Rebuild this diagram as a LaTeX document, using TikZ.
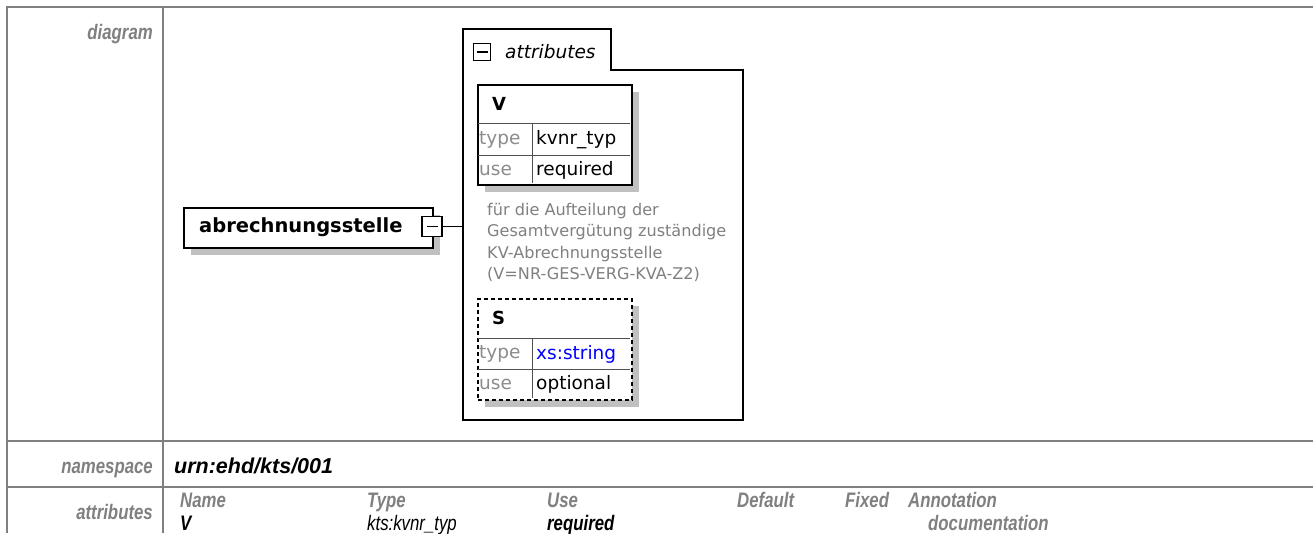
\documentclass[tikz,border=0pt]{standalone}
\usepackage{fontspec}
\setmainfont{Liberation Sans}
\newfontfamily\djv{DejaVu Sans}
\newfontfamily\nar[FakeStretch=0.8]{Liberation Sans}
\definecolor{lbl}{HTML}{808080}
\definecolor{shd}{HTML}{C0C0C0}
\definecolor{cellgray}{HTML}{8C8C8C}
\definecolor{xsblue}{HTML}{0000FF}
\definecolor{rule}{HTML}{505050}
\tikzset{
  gridline/.style={draw=lbl, line width=2pt},
  rowlabel/.style={anchor=base east, inner sep=0pt, text=lbl, font=\nar\fontsize{21}{25}\selectfont\bfseries\itshape},
  valtext/.style={anchor=base west, inner sep=0pt, font=\fontsize{21.5}{25}\selectfont\bfseries\itshape},
  hdrtext/.style={anchor=base west, inner sep=0pt, text=lbl, font=\nar\fontsize{21}{25}\selectfont\bfseries\itshape},
  rowtext/.style={anchor=base west, inner sep=0pt, font=\nar\fontsize{21}{25}\selectfont\bfseries\itshape},
  elembox/.style={draw=black, line width=2pt, fill=white, inner sep=0pt, anchor=north west},
  btnbox/.style={draw=black, line width=1.5pt, fill=white, inner sep=0pt, minimum size=20pt},
  shadowbox/.style={fill=shd},
  attrbox/.style={draw=black, line width=2pt, inner sep=0pt, anchor=north west, minimum width=154pt, minimum height=100pt},
  optbox/.style={attrbox, dash pattern=on 4pt off 3pt},
  innerline/.style={draw=rule, line width=1pt},
  celllabel/.style={anchor=west, inner sep=0pt, text=cellgray, font=\djv\fontsize{18.5}{22}\selectfont},
  cellvalue/.style={anchor=west, inner sep=0pt, font=\djv\fontsize{18.5}{22}\selectfont},
  attrname/.style={anchor=west, inner sep=0pt, font=\djv\fontsize{18}{22}\selectfont\bfseries},
  conn/.style={draw=black, line width=1.5pt}
}
\begin{document}
\begin{tikzpicture}[x=1pt,y=-1pt]
\useasboundingbox (0,0) rectangle (1313,533);
\fill[white] (0,0) rectangle (1313,533);
% table grid
\draw[gridline] (1313,7) -- (7,7) -- (7,533);
\draw[gridline] (163,7) -- (163,533);
\draw[gridline] (7,441) -- (1313,441);
\draw[gridline] (7,487) -- (1313,487);
% row labels
\node[rowlabel] (ldiag) at (153,39) {diagram};
\node[rowlabel] (lns) at (153,473) {namespace};
\node[rowlabel] (lattr) at (153,519) {attributes};
\node[valtext] (ns) at (174,473) {urn:ehd/kts/001};
% attributes table
\node[hdrtext] (hname) at (180,507) {Name};
\node[hdrtext] (htype) at (367,507) {Type};
\node[hdrtext] (huse) at (547,507) {Use};
\node[hdrtext] (hdef) at (737,507) {Default};
\node[hdrtext] (hfix) at (845,507) {Fixed};
\node[hdrtext] (hann) at (908,507) {Annotation};
\node[rowtext] (vname) at (180,530) {V};
\node[rowtext, font=\nar\fontsize{21}{25}\selectfont\itshape] (vtype) at (367,530) {kts:kvnr\_typ};
\node[rowtext] (vuse) at (547,530) {required};
\node[rowtext, text=lbl] (vann) at (928,530) {documentation};
% ---- diagram ----
% element
\fill[shadowbox] (191,215) rectangle (440,255);
\node[elembox, minimum width=249pt, minimum height=40pt] (el) at (183,207) {};
\node[anchor=west, inner sep=0pt, font=\djv\fontsize{19.5}{22}\selectfont\bfseries] (eltext) at (199,227) {abrechnungsstelle};
\node[btnbox] (btn) at (432,226.5) {};
\draw[line width=1.5pt] ([xshift=-5.5pt]btn.center) -- ([xshift=5.5pt]btn.center);
% attributes container
\draw[line width=1.5pt] (463,29) -- (611,29) -- (611,70) -- (743,70) -- (743,420) -- (463,420) -- cycle;
\coordinate (cw) at (463,226.5);
\draw[conn] (btn.east) -- (cw);
\node[draw=black, line width=1.2pt, inner sep=0pt, minimum size=17pt] (tbtn) at (482,52) {};
\draw[line width=1.2pt] ([xshift=-5.5pt]tbtn.center) -- ([xshift=5.5pt]tbtn.center);
\node[anchor=base west, inner sep=0pt, font=\djv\fontsize{18.5}{22}\selectfont\itshape] (tabtext) at (505,58) {attributes};
% attribute V
\fill[shadowbox] (485,92) rectangle (639,192);
\node[attrbox, fill=white] (vbox) at (477,84) {};
\draw[innerline] (478,123) -- (630,123);
\draw[innerline] (478,155) -- (630,155);
\draw[innerline] (532,123) -- (532,183);
\node[attrname] (vhead) at (492,104) {V};
\node[celllabel] (vtl) at (479,139.5) {type};
\node[cellvalue] (vtv) at (536,139.5) {kvnr\_typ};
\node[celllabel] (vul) at (479,170) {use};
\node[cellvalue] (vuv) at (536,170) {required};
% documentation
\node[anchor=north west, align=left, inner sep=0pt, text=lbl, font=\djv\fontsize{16.1}{21.3}\selectfont] (doc) at (487,203) {für die Aufteilung der\\Gesamtvergütung zuständige\\KV-Abrechnungsstelle\\(V=NR-GES-VERG-KVA-Z2)};
% attribute S
\fill[shadowbox] (485,306) rectangle (639,407);
\node[optbox, fill=white, minimum height=101pt] (sbox) at (477,298) {};
\draw[innerline] (478,338) -- (630,338);
\draw[innerline] (478,369) -- (630,369);
\draw[innerline] (532,338) -- (532,398);
\node[attrname] (shead) at (492,318) {S};
\node[celllabel] (stl) at (479,354) {type};
\node[cellvalue, text=xsblue] (stv) at (536,354) {xs:string};
\node[celllabel] (sul) at (479,384.5) {use};
\node[cellvalue] (suv) at (536,384.5) {optional};
\end{tikzpicture}
\end{document}
